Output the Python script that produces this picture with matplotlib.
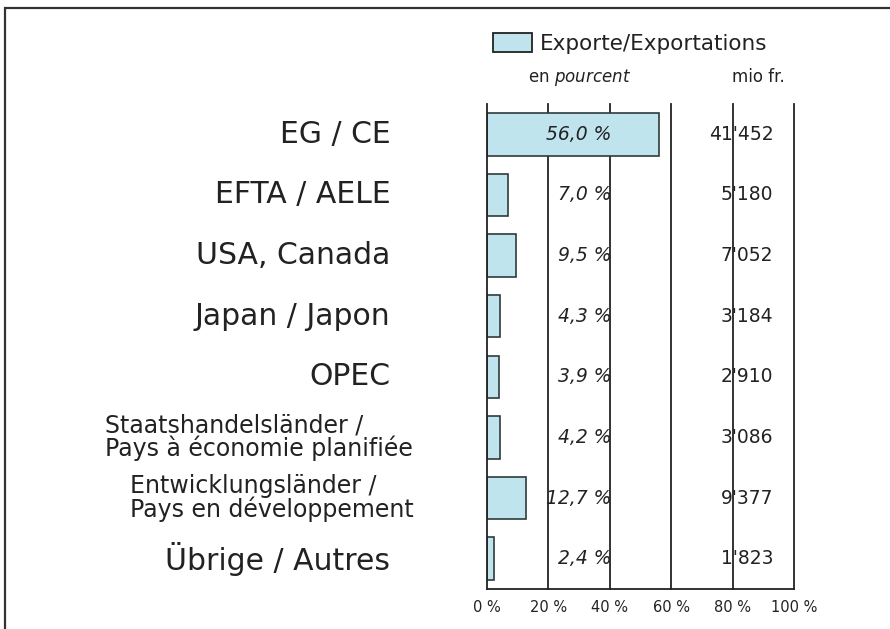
import numpy as np
import matplotlib
matplotlib.use('Agg')
import matplotlib.pyplot as plt
from matplotlib.patches import Rectangle

# data
regions = ['EG / CE', 'EFTA / AELE', 'USA, Canada', 'Japan / Japon', 'OPEC',
           'Staatshandelsländer /\nPays à économie planifiée',
           'Entwicklungsländer /\nPays en développement',
           'Übrige / Autres']
share_pct = [56.0, 7.0, 9.5, 4.3, 3.9, 4.2, 12.7, 2.4]
mio_fr = [41452, 5180, 7052, 3184, 2910, 3086, 9377, 1823]
x_ticks = [0, 20, 40, 60, 80, 100]
x_ticklabels = ['0 %', '20 %', '40 %', '60 %', '80 %', '100 %']

bar_color = '#bfe4ee'
edge_color = '#2f3b3b'
ink = '#222222'

W, H = 890, 629
fig = plt.figure(figsize=(W/100, H/100), dpi=100)
fig.patch.set_facecolor('white')

# axes placed in pixel units of the reference
ax_l, ax_r, ax_t, ax_b = 487, 794, 104, 589
ax = fig.add_axes([ax_l/W, 1-ax_b/H, (ax_r-ax_l)/W, (ax_b-ax_t)/H])

y = np.arange(len(regions))
for xv in x_ticks[1:]:
    ax.axvline(xv, color=ink, lw=1.3, zorder=1, clip_on=False)
ax.barh(y, share_pct, height=0.70, color=bar_color, edgecolor=edge_color,
        lw=1.2, zorder=2)

ax.set_xlim(0, 100)
ax.set_ylim(len(regions)-0.5, -0.5)
for s in ['top', 'right']:
    ax.spines[s].set_visible(False)
for s in ['left', 'bottom']:
    ax.spines[s].set_color(ink)
    ax.spines[s].set_linewidth(1.3)
ax.set_yticks([])
ax.set_xticks(x_ticks)
ax.set_xticklabels(x_ticklabels, fontsize=10.5, color=ink)
ax.tick_params(axis='x', length=0, pad=8)

# percent and mio fr. columns
for i, (p, m) in enumerate(zip(share_pct, mio_fr)):
    ptxt = ('%.1f' % p).replace('.', ',') + ' %'
    ax.text(40.6, i, ptxt, ha='right', va='center', fontsize=13.5,
            style='italic', color=ink, zorder=3)
    mtxt = '{:,}'.format(m).replace(',', "'")
    ax.text(93.3, i, mtxt, ha='right', va='center', fontsize=13.5,
            color=ink, zorder=3)

# category labels on the left
for i, lab in enumerate(regions):
    if '\n' in lab:
        ax.text(-24.0, i, lab, ha='right', va='center', fontsize=17,
                multialignment='left', color=ink, linespacing=0.9,
                clip_on=False)
    else:
        ax.text(-31.5, i, lab, ha='right', va='center', fontsize=21.5,
                color=ink, clip_on=False)

# legend and column headers
fig.patches.append(Rectangle((493/W, 1-52/H), 39/W, 19/H, transform=fig.transFigure,
                             facecolor=bar_color, edgecolor=ink, lw=1.3))
fig.text(540/W, 1-44/H, 'Exporte/Exportations', ha='left', va='center',
         fontsize=15.5, color=ink)
fig.text(580/W, 1-77/H, 'en $\\it{pourcent}$', ha='center', va='center',
         fontsize=12, color=ink)
fig.text(758/W, 1-77/H, 'mio fr.', ha='center', va='center',
         fontsize=12, color=ink)

# outer frame
fig.patches.append(Rectangle((5/W, -0.1), 1.2, 1-8/H+0.1, transform=fig.transFigure,
                             fill=False, edgecolor='#333333', lw=1.6))

fig.savefig('out.png', dpi=100)
